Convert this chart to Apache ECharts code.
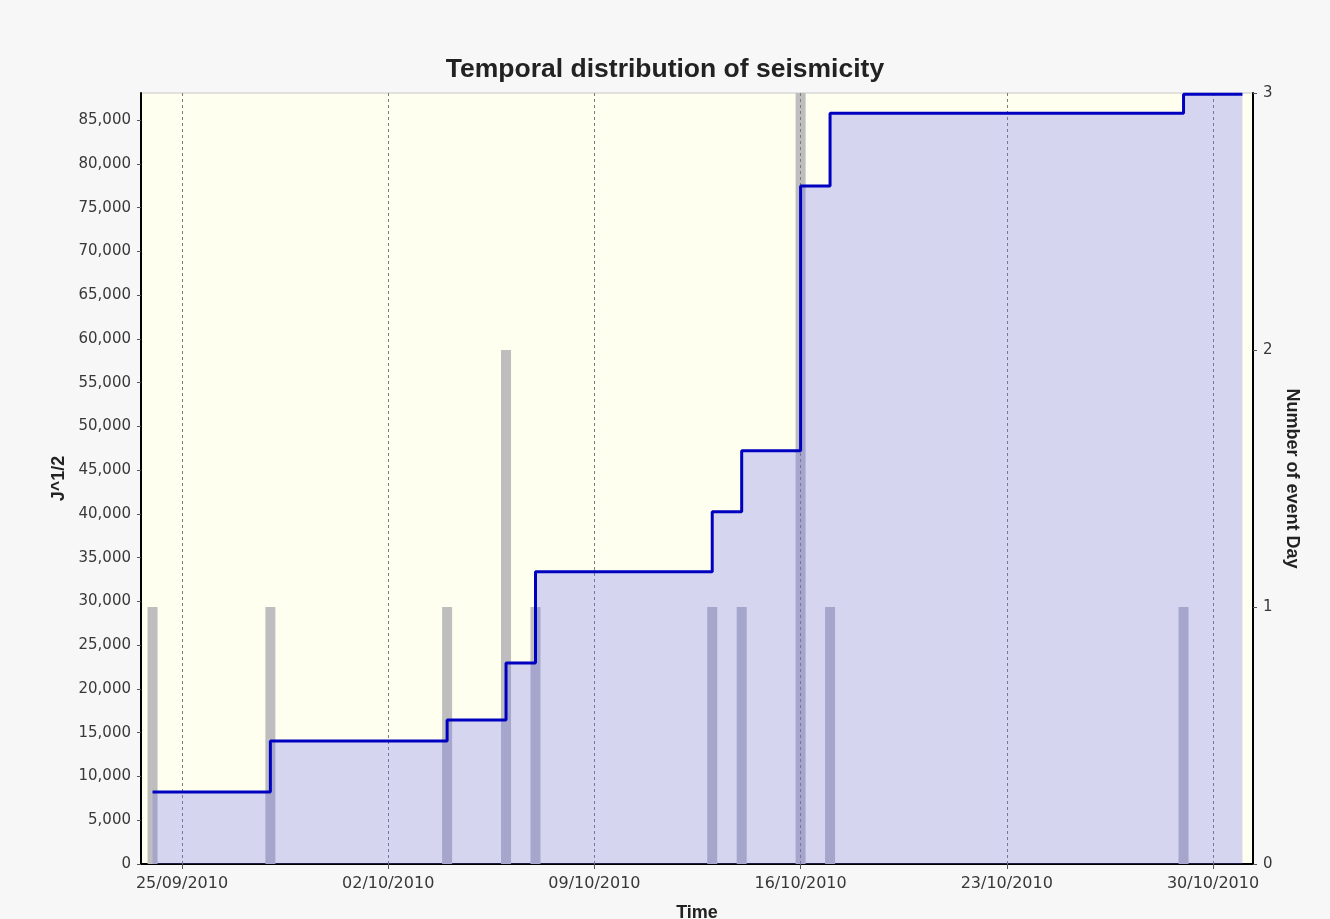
<!DOCTYPE html>
<html>
<head>
<meta charset="utf-8">
<title>Temporal distribution of seismicity</title>
<script src="https://cdn.jsdelivr.net/npm/echarts@6/dist/echarts.min.js"></script>
<style>
  html, body { margin: 0; padding: 0; background: #ffffff; }
  #chart { width: 1330px; height: 919px; }
</style>
</head>
<body>
<div id="chart"></div>
<script>
// days with events (UTC), events per day, cumulative J^1/2 after each day
const eventDays = ['2010-09-24', '2010-09-28', '2010-10-04', '2010-10-06', '2010-10-07',
  '2010-10-13', '2010-10-14', '2010-10-16', '2010-10-17', '2010-10-29'];
const eventsPerDay = [1, 1, 1, 2, 1, 1, 1, 3, 1, 1];
const cumStrain = [8230, 14050, 16450, 22960, 33400, 40250, 47220, 77460, 85800, 87970];
const lineEndDay = '2010-10-31';
const weekTicks = ['2010-09-25', '2010-10-02', '2010-10-09', '2010-10-16', '2010-10-23', '2010-10-30'];

function utc(s) {
  const p = s.split('-').map(n => parseInt(n, 10));
  return Date.UTC(p[0], p[1] - 1, p[2]);
}
function pad(n) {
  return n < 10 ? '0' + n : '' + n;
}

const DAY = 24 * 3600 * 1000;
const xMin = utc('2010-09-25') - 1.392 * DAY;
const xMax = utc('2010-09-25') + 36.358 * DAY;
const tickValues = weekTicks.map(utc);

const barData = eventDays.map((d, i) => [utc(d), eventsPerDay[i]]);
const lineData = eventDays.map((d, i) => [utc(d), cumStrain[i]]);
lineData.push([utc(lineEndDay), cumStrain[cumStrain.length - 1]]);

const labelFont = {
  fontFamily: 'DejaVu Sans',
  fontSize: 15,
  color: '#383838'
};
const nameFont = {
  fontFamily: 'Liberation Sans',
  fontSize: 18,
  fontWeight: 'bold',
  color: '#222'
};

const chart = echarts.init(document.getElementById('chart'));

chart.setOption({
  backgroundColor: '#f7f7f7',
  animation: false,
  title: {
    text: 'Temporal distribution of seismicity',
    left: 'center',
    top: 51,
    textStyle: {
      fontFamily: 'Liberation Sans',
      fontSize: 26.5,
      fontWeight: 'bold',
      color: '#222'
    }
  },
  grid: {
    left: 141,
    right: 77,
    top: 93,
    bottom: 55,
    outerBoundsMode: 'none',
    show: true,
    backgroundColor: '#fffff0',
    borderColor: '#c8c8c8',
    borderWidth: 1
  },
  xAxis: {
    // time in ms, labels placed on the weekly dates
    type: 'value',
    min: xMin,
    max: xMax,
    name: 'Time',
    nameLocation: 'middle',
    nameGap: 40,
    nameTextStyle: nameFont,
    axisLine: { show: true, lineStyle: { color: '#000', width: 2 } },
    axisTick: { show: true, customValues: tickValues, length: 5, lineStyle: { color: '#555' } },
    axisLabel: Object.assign({}, labelFont, {
      customValues: tickValues,
      fontSize: 16,
      margin: 12,
      formatter: function (v) {
        const d = new Date(v);
        return pad(d.getUTCDate()) + '/' + pad(d.getUTCMonth() + 1) + '/' + d.getUTCFullYear();
      }
    }),
    splitLine: { show: false }
  },
  yAxis: [
    {
      type: 'value',
      min: 0,
      max: 88100,
      interval: 5000,
      name: 'J^1/2',
      nameLocation: 'middle',
      nameRotate: 90,
      nameGap: 72,
      nameTextStyle: nameFont,
      axisLine: { show: true, lineStyle: { color: '#000', width: 2 } },
      axisTick: { show: true, length: 4, lineStyle: { color: '#555' } },
      axisLabel: Object.assign({}, labelFont, {
        margin: 10,
        showMaxLabel: false,
        formatter: function (v) {
          return v.toLocaleString('en-US');
        }
      }),
      splitLine: { show: false }
    },
    {
      type: 'value',
      position: 'right',
      min: 0,
      max: 3,
      interval: 1,
      name: 'Number of event Day',
      nameLocation: 'middle',
      nameRotate: -90,
      nameGap: 30,
      nameTextStyle: nameFont,
      axisLine: { show: true, lineStyle: { color: '#000', width: 2 } },
      axisTick: { show: true, length: 4, lineStyle: { color: '#555' } },
      axisLabel: Object.assign({}, labelFont, { margin: 10 }),
      splitLine: { show: false }
    }
  ],
  series: [
    {
      name: 'events',
      type: 'bar',
      yAxisIndex: 1,
      barWidth: 10,
      z: 1,
      itemStyle: { color: '#bebebe' },
      data: barData,
      // weekly dotted grid lines, kept under the J^1/2 line
      markLine: {
        silent: true,
        z: 2,
        symbol: 'none',
        label: { show: false },
        lineStyle: { color: '#7c7c7c', type: [3, 3], width: 1 },
        data: tickValues.map(v => ({ xAxis: v }))
      }
    },
    {
      name: 'J^1/2',
      type: 'line',
      yAxisIndex: 0,
      step: 'end',
      symbol: 'none',
      z: 3,
      lineStyle: { color: '#0000c0', width: 3 },
      areaStyle: { color: 'rgb(103,103,240)', opacity: 0.28 },
      data: lineData
    }
  ]
});
</script>
</body>
</html>
